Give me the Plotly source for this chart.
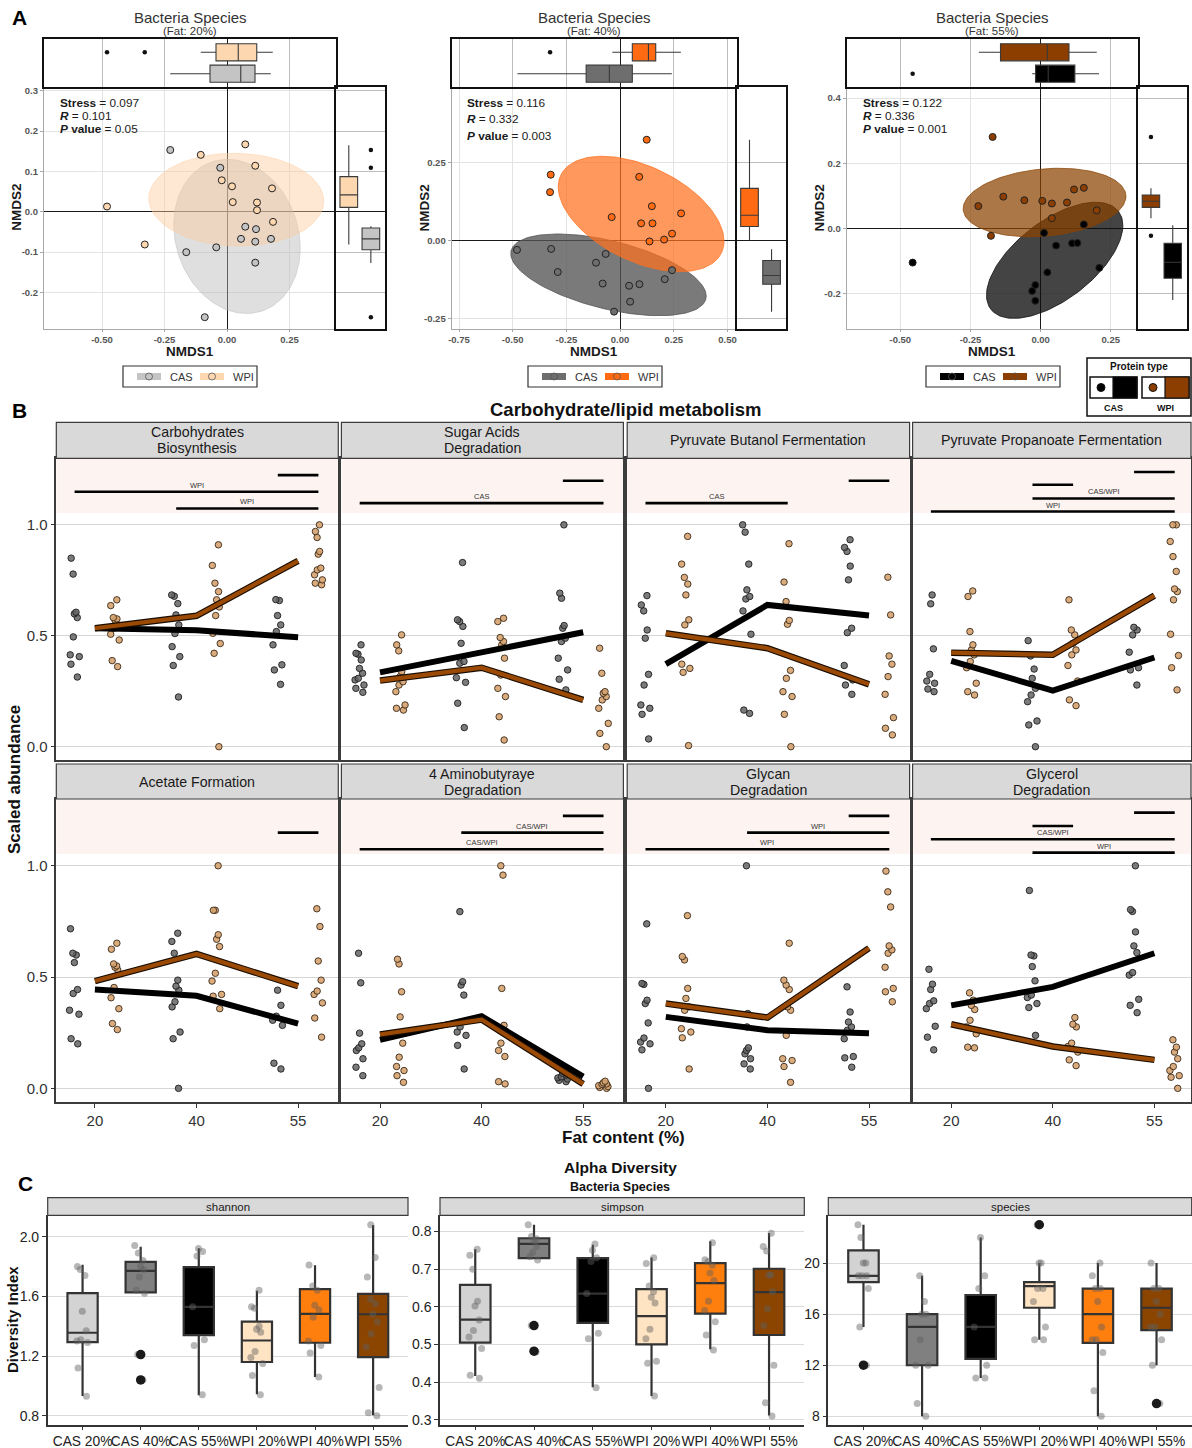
import numpy as np
import plotly.graph_objects as go

W, H = 1192, 1448
FONT = "Liberation Sans, Arial, Helvetica, sans-serif"
INK = "#262626"

# ---------------- Panel A: NMDS ordination of bacteria species ----------------
fat_levels = ["20%", "40%", "55%"]
stress_vals = ["0.097", "0.116", "0.122"]
anosim_r = ["0.101", "0.332", "0.336"]
anosim_p = ["0.05", "0.003", "0.001"]

cas20_nmds1 = [-0.227, -0.027, -0.163, -0.043, 0.073, 0.116, 0.056, 0.113, 0.176, 0.113, -0.089]
cas20_nmds2 = [0.153, 0.109, -0.100, -0.088, -0.037, -0.043, -0.067, -0.074, -0.067, -0.126, -0.261]
wpi20_nmds1 = [-0.480, -0.329, -0.105, -0.021, 0.020, 0.073, 0.113, 0.180, 0.023, 0.120, 0.120, 0.184]
wpi20_nmds2 = [0.013, -0.081, 0.141, 0.078, 0.063, 0.167, 0.114, 0.058, 0.024, 0.023, 0.004, -0.025]

cas40_nmds1 = [-0.480, -0.321, -0.290, -0.067, -0.112, -0.081, 0.042, 0.090, 0.208, 0.242, 0.047, -0.028]
cas40_nmds2 = [-0.030, -0.027, -0.101, -0.043, -0.071, -0.138, -0.145, -0.140, -0.124, -0.095, -0.196, -0.228]
wpi40_nmds1 = [0.124, -0.323, -0.326, 0.089, 0.148, -0.039, 0.284, 0.098, 0.151, 0.242, 0.205, 0.137]
wpi40_nmds2 = [0.323, 0.211, 0.155, 0.204, 0.110, 0.075, 0.087, 0.055, 0.055, 0.022, 0.003, -0.003]

cas55_nmds1 = [-0.456, 0.012, 0.154, 0.055, 0.112, 0.131, 0.024, 0.209, -0.019, -0.030, -0.019]
cas55_nmds2 = [-0.104, -0.013, 0.013, -0.052, -0.045, -0.044, -0.134, -0.120, -0.173, -0.191, -0.221]
wpi55_nmds1 = [-0.171, -0.222, -0.133, -0.058, 0.006, 0.040, 0.094, 0.119, 0.154, 0.200, 0.040, -0.177]
wpi55_nmds2 = [0.281, 0.069, 0.098, 0.087, 0.085, 0.077, 0.080, 0.120, 0.125, 0.056, 0.032, -0.022]

# confidence ellipses: centre x, centre y, half-width x, half-height y, correlation
ell_cas20 = [0.040, -0.061, 0.253, 0.191, -0.15]
ell_wpi20 = [0.037, 0.030, 0.350, 0.115, -0.03]
ell_cas40 = [-0.054, -0.110, 0.455, 0.131, -0.52]
ell_wpi40 = [0.098, 0.085, 0.386, 0.185, -0.47]
ell_cas55 = [0.050, -0.097, 0.243, 0.178, 0.60]
ell_wpi55 = [0.014, 0.080, 0.290, 0.105, 0.18]

# marginal boxplots: lower whisker, Q1, median, Q3, upper whisker
nmds1_box_cas = [[-0.227, -0.068, 0.055, 0.112, 0.175], [-0.478, -0.158, -0.050, 0.057, 0.241], [-0.030, -0.018, 0.027, 0.122, 0.208]]
nmds1_box_wpi = [[-0.105, -0.044, 0.045, 0.119, 0.183], [-0.036, 0.057, 0.132, 0.166, 0.283], [-0.220, -0.143, 0.024, 0.101, 0.200]]
nmds1_out_cas = [[], [], [-0.456]]
nmds1_out_wpi = [[-0.480, -0.329], [-0.326], []]
nmds2_box_cas = [[-0.127, -0.094, -0.067, -0.040, -0.036], [-0.228, -0.140, -0.112, -0.064, -0.028], [-0.219, -0.152, -0.103, -0.045, 0.010]]
nmds2_box_wpi = [[-0.081, 0.011, 0.042, 0.087, 0.165], [0.000, 0.045, 0.081, 0.167, 0.323], [0.032, 0.065, 0.084, 0.103, 0.124]]
nmds2_out_cas = [[0.153, 0.109, -0.261], [], []]
nmds2_out_wpi = [[], [], [0.281, -0.022]]

A_xticks = [[-0.5, -0.25, 0, 0.25], [-0.75, -0.5, -0.25, 0, 0.25, 0.5], [-0.5, -0.25, 0, 0.25]]
A_xticktext = [["-0.50", "-0.25", "0.00", "0.25"], ["-0.75", "-0.50", "-0.25", "0.00", "0.25", "0.50"], ["-0.50", "-0.25", "0.00", "0.25"]]
A_yticks = [[-0.2, -0.1, 0, 0.1, 0.2, 0.3], [-0.25, 0, 0.25], [-0.2, 0, 0.2, 0.4]]
A_yticktext = [["-0.2", "-0.1", "0.0", "0.1", "0.2", "0.3"], ["-0.25", "0.00", "0.25"], ["-0.2", "0.0", "0.2", "0.4"]]

# ---------------- Panel B: carbohydrate / lipid metabolism pathways ----------------
fat_cats = ["20", "40", "55"]
pathway_titles = ["Carbohydrates<br>Biosynthesis", "Sugar Acids<br>Degradation", "Pyruvate Butanol Fermentation",
                  "Pyruvate Propanoate Fermentation", "Acetate Formation", "4 Aminobutyraye<br>Degradation",
                  "Glycan<br>Degradation", "Glycerol<br>Degradation"]

carb_biosynthesis = {
    "CAS": [[0.85, 0.778, 0.606, 0.599, 0.582, 0.495, 0.414, 0.406, 0.372, 0.314],
            [0.684, 0.678, 0.645, 0.594, 0.549, 0.51, 0.451, 0.406, 0.366, 0.224],
            [0.663, 0.659, 0.591, 0.549, 0.519, 0.459, 0.369, 0.346, 0.281]],
    "WPI": [[0.662, 0.636, 0.582, 0.576, 0.57, 0.549, 0.534, 0.507, 0.481, 0.388, 0.361],
            [0.91, 0.817, 0.737, 0.699, 0.662, 0.63, 0.591, 0.511, 0.465, 0.421, 0.0],
            [1.0, 0.97, 0.943, 0.88, 0.868, 0.805, 0.797, 0.775, 0.752, 0.737, 0.73]],
    "CAS_mean": [0.534, 0.525, 0.493], "WPI_mean": [0.534, 0.59, 0.838],
    "signif": [("CAS 55", "WPI 55", 1.224, ""), ("CAS 20", "WPI 55", 1.149, "WPI"), ("CAS 40", "WPI 55", 1.074, "WPI")],
}
sugar_acids = {
    "CAS": [[0.459, 0.421, 0.417, 0.391, 0.353, 0.331, 0.308, 0.301, 0.278, 0.263, 0.245],
            [0.83, 0.572, 0.564, 0.542, 0.466, 0.384, 0.376, 0.311, 0.29, 0.196, 0.086],
            [1.0, 0.692, 0.669, 0.546, 0.534, 0.489, 0.474, 0.399, 0.346, 0.304, 0.256]],
    "WPI": [[0.504, 0.459, 0.432, 0.338, 0.316, 0.293, 0.278, 0.248, 0.188, 0.173, 0.165],
            [0.579, 0.564, 0.492, 0.474, 0.459, 0.399, 0.323, 0.263, 0.226, 0.135, 0.03],
            [0.444, 0.331, 0.248, 0.241, 0.226, 0.211, 0.173, 0.105, 0.06, 0.0]],
    "CAS_mean": [0.335, 0.425, 0.516], "WPI_mean": [0.298, 0.356, 0.211],
    "signif": [("CAS 55", "WPI 55", 1.199, ""), ("CAS 20", "WPI 55", 1.098, "CAS")],
}
butanol_fermentation = {
    "CAS": [[0.681, 0.639, 0.612, 0.526, 0.489, 0.326, 0.278, 0.188, 0.173, 0.146, 0.035],
            [1.0, 0.967, 0.823, 0.707, 0.677, 0.666, 0.612, 0.507, 0.165, 0.15],
            [0.933, 0.898, 0.88, 0.814, 0.752, 0.534, 0.514, 0.366, 0.301, 0.278, 0.236]],
    "WPI": [[0.948, 0.823, 0.763, 0.733, 0.684, 0.572, 0.549, 0.372, 0.353, 0.335, 0.005],
            [0.915, 0.742, 0.654, 0.569, 0.552, 0.344, 0.308, 0.248, 0.226, 0.146, 0.0],
            [0.764, 0.594, 0.409, 0.372, 0.316, 0.236, 0.131, 0.083, 0.053]],
    "CAS_mean": [0.372, 0.639, 0.591], "WPI_mean": [0.511, 0.444, 0.281],
    "signif": [("CAS 55", "WPI 55", 1.199, ""), ("CAS 20", "WPI 40", 1.098, "CAS")],
}
propanoate_fermentation = {
    "CAS": [[0.684, 0.644, 0.441, 0.326, 0.296, 0.286, 0.26, 0.248],
            [0.478, 0.409, 0.35, 0.308, 0.263, 0.233, 0.203, 0.116, 0.098, 0.0],
            [0.538, 0.526, 0.504, 0.426, 0.356, 0.346, 0.278]],
    "WPI": [[0.702, 0.677, 0.519, 0.459, 0.436, 0.414, 0.384, 0.356, 0.286, 0.248, 0.233],
            [0.662, 0.526, 0.504, 0.466, 0.436, 0.414, 0.366, 0.296, 0.211, 0.185],
            [1.0, 1.0, 0.925, 0.857, 0.79, 0.711, 0.699, 0.662, 0.507, 0.411, 0.356, 0.256]],
    "CAS_mean": [0.387, 0.253, 0.402], "WPI_mean": [0.424, 0.414, 0.681],
    "signif": [("CAS 55", "WPI 55", 1.238, ""), ("CAS 40", "WPI 40", 1.181, ""),
               ("CAS 40", "WPI 55", 1.119, "CAS/WPI"), ("CAS 20", "WPI 55", 1.06, "WPI")],
}
acetate_formation = {
    "CAS": [[0.717, 0.607, 0.599, 0.565, 0.444, 0.426, 0.351, 0.333, 0.223, 0.2],
            [0.697, 0.66, 0.607, 0.486, 0.459, 0.441, 0.389, 0.366, 0.253, 0.223, 0.0],
            [0.441, 0.373, 0.324, 0.306, 0.283, 0.113, 0.087]],
    "WPI": [[0.652, 0.625, 0.559, 0.55, 0.544, 0.532, 0.453, 0.407, 0.358, 0.291, 0.264],
            [1.0, 0.8, 0.8, 0.69, 0.67, 0.637, 0.517, 0.482, 0.422, 0.414, 0.358],
            [0.807, 0.727, 0.572, 0.486, 0.437, 0.422, 0.384, 0.316, 0.23]],
    "CAS_mean": [0.444, 0.416, 0.291], "WPI_mean": [0.482, 0.604, 0.459],
    "signif": [("CAS 55", "WPI 55", 1.149, "")],
}
aminobutyrate_degradation = {
    "CAS": [[0.607, 0.474, 0.248, 0.2, 0.182, 0.17, 0.133, 0.095, 0.057],
            [0.794, 0.479, 0.464, 0.419, 0.276, 0.253, 0.238, 0.193, 0.087],
            [0.068, 0.06, 0.052, 0.047, 0.042, 0.036, 0.03]],
    "WPI": [[0.58, 0.559, 0.434, 0.321, 0.203, 0.14, 0.098, 0.08, 0.057, 0.027],
            [1.0, 0.958, 0.449, 0.283, 0.203, 0.17, 0.143, 0.03, 0.02],
            [0.032, 0.025, 0.02, 0.018, 0.012, 0.008, 0.004, 0.0]],
    "CAS_mean": [0.218, 0.324, 0.053], "WPI_mean": [0.242, 0.309, 0.02],
    "signif": [("CAS 55", "WPI 55", 1.224, ""), ("CAS 40", "WPI 55", 1.149, "CAS/WPI"),
               ("CAS 20", "WPI 55", 1.074, "CAS/WPI")],
}
glycan_degradation = {
    "CAS": [[0.739, 0.471, 0.467, 0.396, 0.381, 0.294, 0.226, 0.208, 0.2, 0.173, 0.0],
            [1.0, 0.336, 0.276, 0.182, 0.17, 0.155, 0.133, 0.11, 0.087],
            [0.456, 0.343, 0.298, 0.276, 0.261, 0.223, 0.143, 0.137, 0.095]],
    "WPI": [[0.776, 0.592, 0.577, 0.449, 0.404, 0.366, 0.351, 0.268, 0.253, 0.227, 0.087],
            [0.652, 0.486, 0.464, 0.444, 0.366, 0.351, 0.238, 0.133, 0.125, 0.098, 0.027],
            [0.976, 0.883, 0.815, 0.64, 0.622, 0.607, 0.544, 0.449, 0.434, 0.389]],
    "CAS_mean": [0.321, 0.261, 0.248], "WPI_mean": [0.381, 0.318, 0.63],
    "signif": [("CAS 55", "WPI 55", 1.224, ""), ("CAS 40", "WPI 55", 1.149, "WPI"),
               ("CAS 20", "WPI 55", 1.074, "WPI")],
}
glycerol_degradation = {
    "CAS": [[0.535, 0.468, 0.444, 0.393, 0.381, 0.358, 0.279, 0.23, 0.173],
            [0.889, 0.599, 0.595, 0.547, 0.483, 0.419, 0.408, 0.381, 0.363, 0.238],
            [1.0, 0.803, 0.795, 0.703, 0.64, 0.61, 0.52, 0.509, 0.4, 0.373, 0.34]],
    "WPI": [[0.429, 0.396, 0.373, 0.354, 0.306, 0.276, 0.245, 0.185, 0.182],
            [0.318, 0.288, 0.276, 0.203, 0.188, 0.163, 0.128, 0.102],
            [0.218, 0.185, 0.163, 0.133, 0.098, 0.08, 0.057, 0.05, 0.0]],
    "CAS_mean": [0.373, 0.456, 0.607], "WPI_mean": [0.288, 0.188, 0.128],
    "signif": [("CAS 55", "WPI 55", 1.239, ""), ("CAS 40", "WPI 40", 1.179, ""),
               ("CAS 20", "WPI 55", 1.119, "CAS/WPI"), ("CAS 40", "WPI 55", 1.059, "WPI")],
}
pathways = [carb_biosynthesis, sugar_acids, butanol_fermentation, propanoate_fermentation,
            acetate_formation, aminobutyrate_degradation, glycan_degradation, glycerol_degradation]

# ---------------- Panel C: alpha diversity ----------------
alpha_groups = ["CAS 20%", "CAS 40%", "CAS 55%", "WPI 20%", "WPI 40%", "WPI 55%"]

shannon_lo = [0.933, 1.627, 0.938, 0.944, 1.06, 0.804]
shannon_q1 = [1.293, 1.627, 1.34, 1.16, 1.289, 1.193]
shannon_med = [1.356, 1.771, 1.529, 1.304, 1.482, 1.48]
shannon_q3 = [1.622, 1.831, 1.796, 1.431, 1.649, 1.616]
shannon_hi = [1.811, 1.933, 1.922, 1.638, 1.809, 2.078]
shannon_pts = [[1.78, 1.80, 1.74, 1.50, 1.37, 1.31, 1.29, 1.30, 1.12, 0.93],
               [1.94, 1.89, 1.84, 1.80, 1.78, 1.73, 1.64, 1.62, 1.21, 1.04],
               [1.92, 1.90, 1.87, 1.53, 1.31, 1.27, 0.94],
               [1.64, 1.53, 1.52, 1.40, 1.38, 1.36, 1.23, 1.19, 1.15, 1.07, 0.94],
               [1.81, 1.67, 1.64, 1.54, 1.51, 1.46, 1.30, 1.27, 1.22, 1.06],
               [2.08, 1.86, 1.73, 1.58, 1.55, 1.48, 1.43, 1.35, 1.26, 0.99, 0.82, 0.80]]
shannon_out = [[], [1.21, 1.04], [], [], [], []]

simpson_lo = [0.416, 0.729, 0.386, 0.363, 0.487, 0.311]
simpson_q1 = [0.505, 0.729, 0.557, 0.50, 0.582, 0.525]
simpson_med = [0.566, 0.767, 0.635, 0.575, 0.663, 0.639]
simpson_q3 = [0.658, 0.782, 0.729, 0.647, 0.716, 0.701]
simpson_hi = [0.753, 0.818, 0.765, 0.731, 0.774, 0.796]
simpson_pts = [[0.753, 0.737, 0.70, 0.615, 0.602, 0.565, 0.537, 0.52, 0.489, 0.418, 0.41],
               [0.818, 0.787, 0.781, 0.775, 0.76, 0.745, 0.733, 0.724, 0.55, 0.48],
               [0.767, 0.75, 0.73, 0.72, 0.635, 0.53, 0.515, 0.385],
               [0.73, 0.715, 0.655, 0.64, 0.625, 0.61, 0.54, 0.515, 0.455, 0.45, 0.363],
               [0.77, 0.725, 0.72, 0.71, 0.69, 0.67, 0.615, 0.59, 0.56, 0.525, 0.485],
               [0.795, 0.76, 0.748, 0.685, 0.684, 0.64, 0.595, 0.55, 0.445, 0.345, 0.31]]
simpson_out = [[], [0.55, 0.482], [], [], [], []]

species_lo = [15, 8, 11, 14, 8, 12]
species_q1 = [18.5, 12, 12.5, 16.5, 13.75, 14.75]
species_med = [19, 15, 15, 18.2, 16, 16.5]
species_q3 = [21, 16, 17.5, 18.5, 18, 18]
species_hi = [23, 19, 22, 20, 20, 20]
species_pts = [[23, 22, 20, 20, 19, 19, 19, 18, 15, 12],
               [19, 17, 16, 16, 14, 12, 12, 9, 8],
               [22, 19, 18, 15, 12, 11, 11],
               [23, 20, 20, 18, 18, 17, 15, 14, 14],
               [20, 19, 18, 18, 17, 15, 14, 14, 13, 10, 8],
               [20, 18, 18, 17, 16, 15, 15, 14, 12, 9]]
species_out = [[12], [], [], [23], [], [9]]

# ---------------- colours ----------------
cas_cols = ["#C4C4C4", "#6E6E6E", "#000000"]
wpi_cols = ["#FCD7B0", "#FF6A13", "#8B3E00"]
cas_ell = ["rgba(185,185,185,0.45)", "rgba(85,85,85,0.78)", "rgba(15,15,15,0.78)"]
wpi_ell = ["rgba(252,205,158,0.45)", "rgba(255,112,30,0.72)", "rgba(139,66,0,0.72)"]
alpha_fill = ["#D3D3D3", "#808080", "#000000", "#FFE4C4", "#FF7F0E", "#8B4500"]

# ---------------- helpers ----------------
fig = go.Figure()
shapes, annotations = [], []
_axis_n = [0]


def fx(x):
    return x / W


def fy(y):
    return 1 - y / H


def add_axes(x0, x1, y0, y1, xopts, yopts):
    _axis_n[0] += 1
    n = _axis_n[0]
    s = "" if n == 1 else str(n)
    fig.update_layout(**{
        "xaxis" + s: dict(domain=[fx(x0), fx(x1)], anchor="y" + s, automargin=False, **xopts),
        "yaxis" + s: dict(domain=[fy(y1), fy(y0)], anchor="x" + s, automargin=False, **yopts),
    })
    return "x" + s, "y" + s


def ann(x, y, text, size, color=INK, xanchor="center", yanchor="middle", angle=0):
    annotations.append(dict(x=fx(x), y=fy(y), xref="paper", yref="paper", text=text, showarrow=False,
                            font=dict(family=FONT, size=size, color=color), xanchor=xanchor,
                            yanchor=yanchor, textangle=angle))


def rect(x0, y0, x1, y1, fill="rgba(0,0,0,0)", line="#000000", lw=1.0, layer="above"):
    shapes.append(dict(type="rect", xref="paper", yref="paper", x0=fx(x0), x1=fx(x1), y0=fy(y1), y1=fy(y0),
                       fillcolor=fill, line=dict(color=line, width=lw), layer=layer))


def ellipse(params, n=160):
    cx, cy, rx, ry, rho = params
    t = np.linspace(0, 2 * np.pi, n)
    return cx + rx * np.cos(t), cy + ry * (rho * np.cos(t) + np.sqrt(1 - rho ** 2) * np.sin(t))


def stat_box(stats, pos, horizontal, fill, xa, ya, width, lc="#3a3a3a", lw=1.1):
    lo, q1, med, q3, hi = stats
    kw = dict(q1=[q1], median=[med], q3=[q3], lowerfence=[lo], upperfence=[hi], fillcolor=fill,
              line=dict(color=lc, width=lw), whiskerwidth=0, width=width, boxpoints=False,
              xaxis=xa, yaxis=ya, showlegend=False, hoverinfo="skip")
    if horizontal:
        return go.Box(y=[pos], orientation="h", **kw)
    return go.Box(x=[pos], **kw)


def jitter_points(vals, pos, xa, ya, width, size, fill, edge, edge_w):
    return go.Box(y=vals, x0=pos, xaxis=xa, yaxis=ya, boxpoints="all", jitter=1.0, pointpos=0, width=width,
                  fillcolor="rgba(0,0,0,0)", line=dict(width=0, color="rgba(0,0,0,0)"),
                  marker=dict(size=size, color=fill, line=dict(color=edge, width=edge_w)),
                  showlegend=False, hoverinfo="y")


# ================= Panel A =================
A_main_x = [(44, 336), (451.7, 736.7), (846.7, 1138.3)]
A_side_x = [(336, 385), (736.7, 785.7), (1138.3, 1186.7)]
A_top_y, A_main_y = (39, 87), (87, 328.5)
A_xrange = [[-0.732, 0.436], [-0.784, 0.543], [-0.691, 0.348]]
A_yrange = [[-0.289, 0.309], [-0.282, 0.492], [-0.306, 0.434]]
A_title_x = [190, 594, 992]
A_stats_x = [57.7, 465, 860.7]
A_legend_x = [123, 528, 926]

cas_x = [cas20_nmds1, cas40_nmds1, cas55_nmds1]
cas_y = [cas20_nmds2, cas40_nmds2, cas55_nmds2]
wpi_x = [wpi20_nmds1, wpi40_nmds1, wpi55_nmds1]
wpi_y = [wpi20_nmds2, wpi40_nmds2, wpi55_nmds2]
cas_ells = [ell_cas20, ell_cas40, ell_cas55]
wpi_ells = [ell_wpi20, ell_wpi40, ell_wpi55]

tick_font_A = dict(family=FONT, size=9.5, color="#555555")
frame = dict(showline=True, mirror=True, linecolor="#111111", linewidth=2.2)

for k in range(3):
    mx0, mx1 = A_main_x[k]
    sx0, sx1 = A_side_x[k]
    bold_x = ["<b>%s</b>" % t for t in A_xticktext[k]]
    bold_y = ["<b>%s</b>" % t for t in A_yticktext[k]]
    # main ordination plot
    xa, ya = add_axes(mx0, mx1, A_main_y[0], A_main_y[1],
                      dict(range=A_xrange[k], tickvals=A_xticks[k], ticktext=bold_x, showgrid=True,
                           gridcolor="#E3E3E3", gridwidth=1, zeroline=True, zerolinecolor="#1a1a1a",
                           zerolinewidth=1, showline=True, linecolor="#A8A8A8", linewidth=1.2,
                           ticks="outside", ticklen=2, tickcolor="#A8A8A8", tickfont=tick_font_A),
                      dict(range=A_yrange[k], tickvals=A_yticks[k], ticktext=bold_y, showgrid=True,
                           gridcolor="#E3E3E3", gridwidth=1, zeroline=True, zerolinecolor="#1a1a1a",
                           zerolinewidth=1, showline=True, linecolor="#A8A8A8", linewidth=1.2,
                           ticks="outside", ticklen=3, tickcolor="#A8A8A8", tickfont=tick_font_A))
    for params, fillc in ((cas_ells[k], cas_ell[k]), (wpi_ells[k], wpi_ell[k])):
        ex, ey = ellipse(params)
        fig.add_trace(go.Scatter(x=ex, y=ey, mode="lines", fill="toself", fillcolor=fillc,
                                 line=dict(color=fillc, width=1), xaxis=xa, yaxis=ya,
                                 showlegend=False, hoverinfo="skip"))
    fig.add_trace(go.Scatter(x=cas_x[k], y=cas_y[k], mode="markers", xaxis=xa, yaxis=ya, showlegend=False,
                             marker=dict(size=7, color=cas_cols[k], line=dict(color="#222222", width=1))))
    fig.add_trace(go.Scatter(x=wpi_x[k], y=wpi_y[k], mode="markers", xaxis=xa, yaxis=ya, showlegend=False,
                             marker=dict(size=7, color=wpi_cols[k], line=dict(color="#222222", width=1))))

    # marginal boxplot of NMDS1 (above)
    txa, tya = add_axes(mx0, mx1, A_top_y[0], A_top_y[1],
                        dict(range=A_xrange[k], tickvals=A_xticks[k], showticklabels=False, ticks="",
                             showgrid=True, gridcolor="#BDBDBD", gridwidth=1.4, zeroline=True,
                             zerolinecolor="#1a1a1a", zerolinewidth=1, **frame),
                        dict(range=[0.38, 2.62], showticklabels=False, ticks="", showgrid=False,
                             zeroline=False, **frame))
    fig.add_trace(stat_box(nmds1_box_cas[k], 1, True, cas_cols[k], txa, tya, 0.8))
    fig.add_trace(stat_box(nmds1_box_wpi[k], 2, True, wpi_cols[k], txa, tya, 0.8))
    for vals, row in ((nmds1_out_cas[k], 1), (nmds1_out_wpi[k], 2)):
        if vals:
            fig.add_trace(go.Scatter(x=vals, y=[row] * len(vals), mode="markers", xaxis=txa, yaxis=tya,
                                     marker=dict(size=4.5, color="#111111"), showlegend=False))

    # marginal boxplot of NMDS2 (right)
    rxa, rya = add_axes(sx0, sx1, A_main_y[0], A_main_y[1],
                        dict(range=[0.42, 2.64], showticklabels=False, ticks="", showgrid=False,
                             zeroline=False, **frame),
                        dict(range=A_yrange[k], tickvals=A_yticks[k], showticklabels=False, ticks="",
                             showgrid=True, gridcolor="#BDBDBD", gridwidth=1.4, zeroline=True,
                             zerolinecolor="#1a1a1a", zerolinewidth=1, **frame))
    fig.add_trace(stat_box(nmds2_box_wpi[k], 1, False, wpi_cols[k], rxa, rya, 0.8))
    fig.add_trace(stat_box(nmds2_box_cas[k], 2, False, cas_cols[k], rxa, rya, 0.8))
    for vals, col in ((nmds2_out_wpi[k], 1), (nmds2_out_cas[k], 2)):
        if vals:
            fig.add_trace(go.Scatter(x=[col] * len(vals), y=vals, mode="markers", xaxis=rxa, yaxis=rya,
                                     marker=dict(size=4.5, color="#111111"), showlegend=False))

    # titles and statistics
    ann(A_title_x[k], 17, "Bacteria Species", 15, "#333333")
    ann(A_title_x[k], 31.5, "(Fat: %s)" % fat_levels[k], 11.5, "#333333")
    ann(A_title_x[k], 351, "<b>NMDS1</b>", 13.5, "#1a1a1a")
    ann(mx0 - 27, (A_main_y[0] + A_main_y[1]) / 2, "<b>NMDS2</b>", 13.5, "#1a1a1a", angle=-90)
    sx = A_stats_x[k]
    sy0 = 103 if k != 1 else 102.5
    gap = 13.2 if k != 1 else 16.5
    ann(sx, sy0, "<b>Stress</b> = %s" % stress_vals[k], 11.8, "#1a1a1a", xanchor="left")
    ann(sx, sy0 + gap, "<b><i>R</i></b> = %s" % anosim_r[k], 11.8, "#1a1a1a", xanchor="left")
    ann(sx, sy0 + 2 * gap, "<b><i>P</i> value</b> = %s" % anosim_p[k], 11.8, "#1a1a1a", xanchor="left")

    # legend box under each ordination
    lx = A_legend_x[k]
    rect(lx, 366, lx + 134, 387, line="#333333", lw=1.2)
    for j, (name, col) in enumerate((("CAS", cas_cols[k]), ("WPI", wpi_cols[k]))):
        kx = lx + 14 + j * 63
        shapes.append(dict(type="line", xref="paper", yref="paper", x0=fx(kx), x1=fx(kx + 24),
                           y0=fy(376.5), y1=fy(376.5), line=dict(color=col, width=7)))
        shapes.append(dict(type="circle", xref="paper", yref="paper", x0=fx(kx + 8.5), x1=fx(kx + 15.5),
                           y0=fy(380), y1=fy(373), fillcolor=col, line=dict(color="#555555", width=0.8)))
        ann(kx + 31, 376.5, name, 11, "#333333", xanchor="left")

# protein type key
rect(1087, 358, 1191, 416, line="#111111", lw=1.5)
ann(1139, 367, "<b>Protein type</b>", 10, "#111111")
for j, (name, col) in enumerate((("CAS", "#000000"), ("WPI", "#8B3E00"))):
    bx = 1090 + j * 52
    rect(bx, 377, bx + 47, 398, line="#111111", lw=1.5)
    rect(bx + 23, 377, bx + 47, 398, fill=col, line="#111111", lw=1.2)
    shapes.append(dict(type="circle", xref="paper", yref="paper", x0=fx(bx + 7), x1=fx(bx + 15),
                       y0=fy(391.5), y1=fy(383.5), fillcolor=col, line=dict(color="#111111", width=1)))
    ann(bx + 23, 408, "<b>%s</b>" % name, 9, "#111111")

ann(19, 17, "<b>A</b>", 21, "#000000")

# ================= Panel B =================
B_cols = [(56.3, 338.3), (341.4, 623.4), (627.2, 909.6), (912.6, 1191.0)]
B_rows = [((422.3, 458.3), (458.3, 760.0)), ((764.0, 799.0), (799.0, 1101.7))]
B_cat0, B_unit = 38.6, 101.6
B_yrange = [-0.06, 1.30]
dodge = {"CAS": -0.2, "WPI": 0.2}
group_pos = {"%s %s" % (g, c): i + dodge[g] for g in ("CAS", "WPI") for i, c in enumerate(fat_cats)}

for k, pw in enumerate(pathways):
    r, c = divmod(k, 4)
    x0, x1 = B_cols[c]
    (sy0, sy1), (py0, py1) = B_rows[r]
    xr = [-B_cat0 / B_unit, (x1 - x0 - B_cat0) / B_unit]
    xa, ya = add_axes(x0, x1, py0, py1,
                      dict(type="linear", range=xr, tickvals=[0, 1, 2], ticktext=fat_cats,
                           showticklabels=(r == 1), ticks="outside" if r == 1 else "", ticklen=4,
                           tickcolor="#333333", tickfont=dict(family=FONT, size=15, color="#333333"),
                           showgrid=False, zeroline=False, showline=True, mirror=True,
                           linecolor="#3c3c3c", linewidth=1.6),
                      dict(range=B_yrange, tickvals=[0, 0.5, 1.0], ticktext=["0.0", "0.5", "1.0"],
                           showticklabels=(c == 0), ticks="outside" if c == 0 else "", ticklen=4,
                           tickcolor="#333333", tickfont=dict(family=FONT, size=15, color="#333333"),
                           showgrid=True, gridcolor="#D6D6D6", gridwidth=1.2, zeroline=False,
                           showline=True, mirror=True, linecolor="#3c3c3c", linewidth=1.6))
    # shaded area that holds the comparison brackets
    shapes.append(dict(type="rect", xref=xa + " domain", yref=ya, x0=0, x1=1, y0=1.053, y1=B_yrange[1],
                       fillcolor="#FDF4F1", line=dict(width=0), layer="below"))
    # facet strip, one annotation per title line
    rect(x0, sy0, x1, sy1, fill="#D9D9D9", line="#3c3c3c", lw=1.2)
    lines = pathway_titles[k].split("<br>")
    mid = (sy0 + sy1) / 2
    for li, txt in enumerate(lines):
        ann((x0 + x1) / 2, mid + (li - (len(lines) - 1) / 2) * 16, txt, 14.2, "#1a1a1a")

    for g, fill, edge in (("CAS", "rgba(100,100,100,0.85)", "#1e1e1e"),
                          ("WPI", "rgba(214,162,110,0.9)", "#3a2a1a")):
        for i in range(3):
            fig.add_trace(jitter_points(pw[g][i], i + dodge[g], xa, ya, 0.12, 6.5, fill, edge, 0.9))
    fig.add_trace(go.Scatter(x=[0, 1, 2], y=pw["CAS_mean"], mode="lines", xaxis=xa, yaxis=ya,
                             line=dict(color="#000000", width=6), showlegend=False, hoverinfo="skip"))
    fig.add_trace(go.Scatter(x=[0, 1, 2], y=pw["WPI_mean"], mode="lines", xaxis=xa, yaxis=ya,
                             line=dict(color="#1a0d00", width=6.5), showlegend=False, hoverinfo="skip"))
    fig.add_trace(go.Scatter(x=[0, 1, 2], y=pw["WPI_mean"], mode="lines", xaxis=xa, yaxis=ya,
                             line=dict(color="#9A4A05", width=4.2), showlegend=False, hoverinfo="skip"))

    for g_from, g_to, height, label in pw["signif"]:
        xs, xe = group_pos[g_from], group_pos[g_to]
        shapes.append(dict(type="line", xref=xa, yref=ya, x0=xs, x1=xe, y0=height, y1=height,
                           line=dict(color="#000000", width=2.6)))
        if label:
            annotations.append(dict(x=(xs + xe) / 2, y=height, xref=xa, yref=ya, text=label, showarrow=False,
                                    font=dict(family=FONT, size=7.5, color="#333333"),
                                    yanchor="bottom", yshift=0))

ann(19, 410, "<b>B</b>", 21, "#000000")
ann(625, 409, "<b>Carbohydrate/lipid metabolism</b>", 18.5, "#111111")
ann(14, 780, "<b>Scaled abundance</b>", 17, "#111111", angle=-90)
ann(623, 1137, "<b>Fat content (%)</b>", 17, "#111111")

# ================= Panel C =================
C_panels = [
    ("shannon", (47.7, 408.0), [0.738, 2.143], [0.8, 1.2, 1.6, 2.0], ["0.8", "1.2", "1.6", "2.0"],
     (shannon_lo, shannon_q1, shannon_med, shannon_q3, shannon_hi), shannon_pts, shannon_out),
    ("simpson", (440.0, 804.3), [0.286, 0.843], [0.3, 0.4, 0.5, 0.6, 0.7, 0.8],
     ["0.3", "0.4", "0.5", "0.6", "0.7", "0.8"],
     (simpson_lo, simpson_q1, simpson_med, simpson_q3, simpson_hi), simpson_pts, simpson_out),
    ("species", (828.3, 1191.7), [7.32, 23.74], [8, 12, 16, 20], ["8", "12", "16", "20"],
     (species_lo, species_q1, species_med, species_q3, species_hi), species_pts, species_out),
]
C_strip_y, C_panel_y = (1197.7, 1215.3), (1215.3, 1425.0)

for name, (x0, x1), yr, tv, tt, stats, pts, outs in C_panels:
    xa, ya = add_axes(x0, x1, C_panel_y[0], C_panel_y[1],
                      dict(type="linear", range=[-0.6, 5.6], tickvals=list(range(6)), ticktext=alpha_groups,
                           tickangle=0, ticks="outside", ticklen=3, tickcolor="#333333", tickwidth=1.3,
                           tickfont=dict(family=FONT, size=13.8, color="#222222"), showgrid=False,
                           zeroline=False, showline=True, linecolor="#333333", linewidth=1.5),
                      dict(range=yr, tickvals=tv, ticktext=tt, ticks="outside", ticklen=4,
                           tickcolor="#333333", tickwidth=1.3,
                           tickfont=dict(family=FONT, size=14, color="#222222"), showgrid=True,
                           gridcolor="#DADADA", gridwidth=1.2, zeroline=False, showline=True,
                           linecolor="#333333", linewidth=1.5))
    rect(x0, C_strip_y[0], x1, C_strip_y[1], fill="#D9D9D9", line="#3c3c3c", lw=1.2)
    ann((x0 + x1) / 2, (C_strip_y[0] + C_strip_y[1]) / 2 + 0.5, name, 11.5, "#1a1a1a")
    lo, q1, med, q3, hi = stats
    for i in range(6):
        fig.add_trace(stat_box([lo[i], q1[i], med[i], q3[i], hi[i]], i, False, alpha_fill[i], xa, ya, 0.52,
                               lc="#333333", lw=2.2))
        if outs[i]:
            fig.add_trace(go.Scatter(x=[i] * len(outs[i]), y=outs[i], mode="markers", xaxis=xa, yaxis=ya,
                                     marker=dict(size=9.5, color="#1a1a1a"), showlegend=False))
        fig.add_trace(jitter_points(pts[i], i, xa, ya, 0.28, 7, "rgba(95,95,95,0.45)",
                                    "rgba(95,95,95,0.0)", 0))

ann(25, 1183, "<b>C</b>", 21, "#000000")
ann(620, 1167, "<b>Alpha Diversity</b>", 15.5, "#111111")
ann(620, 1187, "<b>Bacteria Species</b>", 12.5, "#111111")
ann(12, 1320, "<b>Diversity Index</b>", 15, "#111111", angle=-90)

fig.update_layout(width=W, height=H, margin=dict(l=0, r=0, t=0, b=0, autoexpand=False), paper_bgcolor="white",
                  plot_bgcolor="white", showlegend=False, boxmode="overlay", font=dict(family=FONT),
                  shapes=shapes, annotations=annotations)
fig.write_html("out.html", include_plotlyjs=True, config={"displayModeBar": False, "responsive": False})
